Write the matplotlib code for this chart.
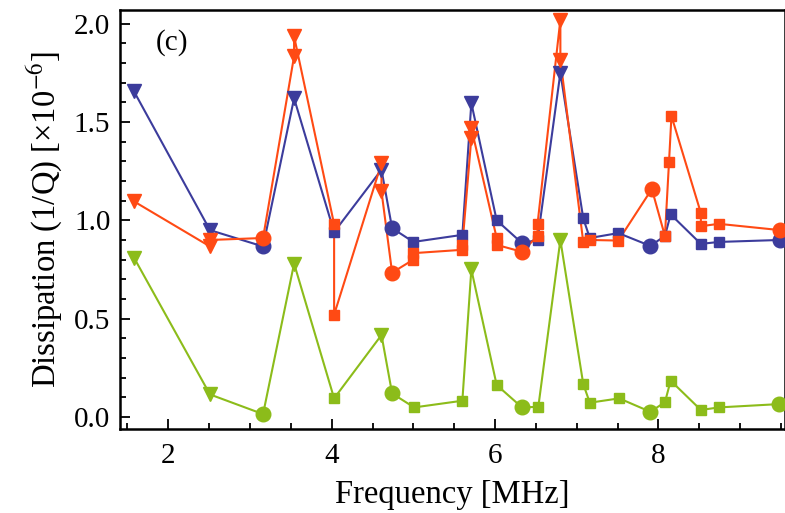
import numpy as np
import matplotlib
matplotlib.use("Agg")
import matplotlib.pyplot as plt
from matplotlib.ticker import MultipleLocator

plt.rcParams['font.family'] = ['Liberation Serif', 'DejaVu Serif']
plt.rcParams['mathtext.fontset'] = 'stix'

# mode kind per point: 'T' = triangle modes, 'C' = circle modes, 'S' = square modes
blue_f = [1.58, 2.51, 3.16, 3.54, 4.03, 4.61, 4.74, 5.00, 5.60, 5.71, 6.02, 6.33,
          6.52, 6.80, 7.08, 7.16, 7.51, 7.90, 8.08, 8.15, 8.52, 8.74, 9.49]
blue_q = [1.655, 0.95, 0.867, 1.62, 0.94, 1.257, 0.96, 0.89, 0.926, 1.596, 1.00, 0.884,
          0.90, 1.749, 1.01, 0.91, 0.935, 0.87, 0.92, 1.03, 0.88, 0.89, 0.90]
blue_k = ['T', 'T', 'C', 'T', 'S', 'T', 'C', 'S', 'S', 'T', 'S', 'C',
          'S', 'T', 'S', 'S', 'S', 'C', 'S', 'S', 'S', 'S', 'C']

red_f = [1.58, 2.51, 2.51, 3.16, 3.54, 3.54, 4.03, 4.03, 4.61, 4.61, 4.74, 5.00, 5.00,
         5.60, 5.60, 5.71, 5.71, 6.02, 6.02, 6.33, 6.52, 6.52, 6.80, 6.80, 7.08, 7.16,
         7.51, 7.92, 8.08, 8.13, 8.16, 8.52, 8.52, 8.74, 9.49]
red_q = [1.096, 0.867, 0.90, 0.91, 1.834, 1.935, 0.98, 0.52, 1.29, 1.147, 0.734, 0.80, 0.833,
         0.85, 0.875, 1.418, 1.47, 0.91, 0.875, 0.84, 0.92, 0.98, 2.02, 1.817, 0.89, 0.90,
         0.897, 1.159, 0.92, 1.296, 1.53, 1.037, 0.97, 0.982, 0.95]
red_k = ['T', 'T', 'T', 'C', 'T', 'T', 'S', 'S', 'T', 'T', 'C', 'S', 'S',
         'S', 'S', 'T', 'T', 'S', 'S', 'C', 'S', 'S', 'T', 'T', 'S', 'S',
         'S', 'C', 'S', 'S', 'S', 'S', 'S', 'S', 'C']

green_f = [1.58, 2.51, 3.16, 3.54, 4.03, 4.61, 4.74, 5.01, 5.60, 5.71, 6.02, 6.33,
           6.53, 6.80, 7.08, 7.16, 7.52, 7.90, 8.08, 8.15, 8.52, 8.74, 9.48]
green_q = [0.81, 0.115, 0.015, 0.78, 0.095, 0.417, 0.12, 0.049, 0.083, 0.75, 0.163, 0.049,
           0.052, 0.90, 0.168, 0.073, 0.095, 0.027, 0.075, 0.185, 0.036, 0.049, 0.066]
green_k = blue_k

series = [(blue_f, blue_q, blue_k, '#3c3c9c'),
          (red_f, red_q, red_k, '#ff4a14'),
          (green_f, green_q, green_k, '#8cbc1a')]

marker_style = {'T': ('v', 9.5), 'C': ('o', 10.5), 'S': ('s', 6.5)}

fig = plt.figure(figsize=(7.85, 5.13), dpi=100)
ax = fig.add_axes([0.153, 0.164, 0.847, 0.817])

for f, q, k, col in series:
    f = np.array(f)
    q = np.array(q)
    k = np.array(k)
    ax.plot(f, q, color=col, lw=1.5, zorder=2)
    for kind, (m, ms) in marker_style.items():
        sel = k == kind
        ax.plot(f[sel], q[sel], ls='none', marker=m, ms=ms, color=col,
                mec=col, zorder=3)

ax.set_xlim(1.41, 9.55)
ax.set_ylim(-0.06, 2.07)
ax.xaxis.set_major_locator(MultipleLocator(2))
ax.xaxis.set_minor_locator(MultipleLocator(0.5))
ax.yaxis.set_major_locator(MultipleLocator(0.5))
ax.yaxis.set_minor_locator(MultipleLocator(0.1))
ax.yaxis.set_major_formatter(plt.FuncFormatter(lambda v, p: '%.1f' % v))
ax.tick_params(which='both', direction='in', top=False, right=False, labelsize=21,
               width=1.3, colors='black')
ax.tick_params(which='major', length=7)
ax.tick_params(which='minor', length=4)
ax.tick_params(axis='y', which='major', pad=7)
ax.tick_params(axis='x', which='major', pad=10)
for s in ax.spines.values():
    s.set_linewidth(1.8)

ax.set_xlabel('Frequency [MHz]', fontsize=23.5, labelpad=8)
ax.set_ylabel('Dissipation (1/Q) [×10$^{-6}$]', fontsize=23.5, labelpad=6)
ax.text(0.053, 0.922, '(c)', transform=ax.transAxes, fontsize=21, va='center')

fig.savefig('out.png', dpi=100)
